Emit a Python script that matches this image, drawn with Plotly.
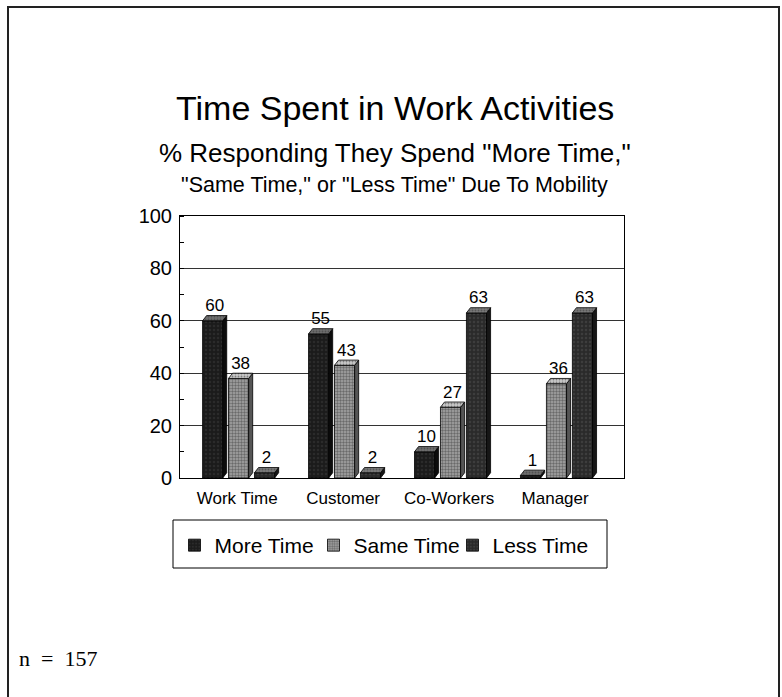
import plotly.graph_objects as go

# ---- data -------------------------------------------------------------
categories = ["Work Time", "Customer", "Co-Workers", "Manager"]
series_names = ["More Time", "Same Time", "Less Time"]
more_time = [60, 55, 10, 1]
same_time = [38, 43, 27, 36]
less_time = [2, 2, 63, 63]
y_ticks = [0, 20, 40, 60, 80, 100]
sample_note = "n  =  157"

# ---- layout constants -------------------------------------------------
W, H = 782, 697
M_L, M_R, M_T, M_B = 180, 158, 216, 219
X_RANGE = [-0.54, 3.65]
Y_RANGE = [0, 100]

SANS = "Liberation Sans, Arial, sans-serif"
SERIF = "Liberation Serif, Times New Roman, serif"


def paper_x(px):
    return (px - M_L) / (W - M_L - M_R)


def paper_y(py):
    return (H - M_B - py) / (H - M_T - M_B)


# bar geometry in axis units (pseudo-3D extrusion)
PITCH = 0.245
SHIFT = 0.013
BAR_W = 0.19
DX = 0.038
DY = 2.0

styles = [
    dict(front="#1b1b1b", top="#6e6e6e", side="#0c0c0c",
         pat=dict(shape=".", bgcolor="#1b1b1b", fgcolor="#3a3a3a", size=4, solidity=0.3)),
    dict(front="#8e8e8e", top="#c9c9c9", side="#555555",
         pat=dict(shape=".", bgcolor="#a6a6a6", fgcolor="#2e2e2e", size=3, solidity=0.5)),
    dict(front="#2c2c2c", top="#7a7a7a", side="#161616",
         pat=dict(shape=".", bgcolor="#2a2a2a", fgcolor="#505050", size=4, solidity=0.3)),
]

fig = go.Figure()

series_values = [more_time, same_time, less_time]
label_x, label_y, label_t = [], [], []

for j, (name, vals, st) in enumerate(zip(series_names, series_values, styles)):
    xs = [i + (j - 1) * PITCH + SHIFT for i in range(len(categories))]
    fig.add_trace(go.Bar(
        x=xs, y=vals, width=BAR_W, name=name,
        marker=dict(color=st["front"], pattern=st["pat"],
                    line=dict(color="#000000", width=0.8)),
        hoverinfo="skip",
    ))

    side_x, side_y, top_x, top_y = [], [], [], []
    for x, v in zip(xs, vals):
        x0, x1 = x - BAR_W / 2, x + BAR_W / 2
        top_x += [x0, x1, x1 + DX, x0 + DX, x0, None]
        top_y += [v, v, v + DY, v + DY, v, None]
        side_x += [x1, x1 + DX, x1 + DX, x1, x1, None]
        side_y += [0, DY, v + DY, v, 0, None]
        label_x.append(x + DX / 2)
        label_y.append(v + DY)
        label_t.append(str(v))

    fig.add_trace(go.Scatter(
        x=side_x, y=side_y, mode="lines", fill="toself",
        fillcolor=st["side"], line=dict(color="#000000", width=0.8),
        showlegend=False, hoverinfo="skip",
    ))
    fig.add_trace(go.Scatter(
        x=top_x, y=top_y, mode="lines", fill="toself",
        fillcolor=st["top"],
        fillpattern=dict(shape=".", bgcolor=st["top"], fgcolor="#333333",
                         size=3, solidity=0.3),
        line=dict(color="#000000", width=0.8),
        showlegend=False, hoverinfo="skip",
    ))

# value labels above each bar
fig.add_trace(go.Scatter(
    x=label_x, y=label_y, mode="text", text=label_t,
    textposition="top center",
    textfont=dict(family=SANS, size=17, color="#000000"),
    showlegend=False, hoverinfo="skip", cliponaxis=False,
))

fig.update_layout(
    width=W, height=H,
    margin=dict(l=M_L, r=M_R, t=M_T, b=M_B, pad=0),
    paper_bgcolor="#ffffff", plot_bgcolor="#ffffff",
    barmode="overlay",
    font=dict(family=SANS, color="#000000"),
    showlegend=True,
    legend=dict(
        orientation="h", x=paper_x(383), xanchor="center",
        y=paper_y(525), yanchor="top",
        bgcolor="rgba(0,0,0,0)", borderwidth=0,
        entrywidth=94, entrywidthmode="pixels",
        font=dict(family=SANS, size=21, color="#000000"),
        itemclick=False, itemdoubleclick=False,
    ),
)

fig.update_xaxes(
    range=X_RANGE, tickmode="array",
    tickvals=list(range(len(categories))), ticktext=categories,
    tickfont=dict(family=SANS, size=17, color="#000000"),
    ticklabelstandoff=5,
    showgrid=False, zeroline=False, ticks="",
    showline=True, linecolor="#000000", linewidth=1, mirror=True,
)
fig.update_yaxes(
    range=Y_RANGE, tickmode="array", tickvals=y_ticks,
    tickfont=dict(family=SANS, size=20, color="#000000"),
    ticklabelstandoff=3,
    showgrid=True, gridcolor="#333333", gridwidth=1,
    zeroline=False, ticks="",
    minor=dict(dtick=10, tick0=0, ticks="inside", ticklen=4,
               tickcolor="#000000", showgrid=False),
    showline=True, linecolor="#000000", linewidth=1, mirror=True,
)

# headings
fig.add_annotation(text="Time Spent in Work Activities", xref="paper", yref="paper",
                   x=paper_x(395), y=paper_y(108), xanchor="center", yanchor="middle",
                   showarrow=False, font=dict(family=SANS, size=34, color="#000000"))
fig.add_annotation(text='% Responding They Spend "More Time,"', xref="paper", yref="paper",
                   x=paper_x(395), y=paper_y(153), xanchor="center", yanchor="middle",
                   showarrow=False, font=dict(family=SANS, size=26, color="#000000"))
fig.add_annotation(text='"Same Time," or "Less Time" Due To Mobility', xref="paper", yref="paper",
                   x=paper_x(394), y=paper_y(185), xanchor="center", yanchor="middle",
                   showarrow=False, font=dict(family=SANS, size=21.5, color="#000000"))
fig.add_annotation(text=sample_note, xref="paper", yref="paper",
                   x=paper_x(17), y=paper_y(658), xanchor="left", yanchor="middle",
                   showarrow=False, font=dict(family=SERIF, size=22, color="#000000"))

# legend frame
fig.add_shape(type="rect", xref="paper", yref="paper",
              x0=paper_x(173), x1=paper_x(607), y0=paper_y(568), y1=paper_y(520),
              line=dict(color="#000000", width=1), fillcolor="rgba(0,0,0,0)",
              layer="below")

# page frame
fig.add_shape(type="rect", xref="paper", yref="paper",
              x0=paper_x(8), x1=paper_x(779), y0=paper_y(705), y1=paper_y(7),
              line=dict(color="#222222", width=2), fillcolor="rgba(0,0,0,0)",
              layer="below")

fig.write_html("out.html")
